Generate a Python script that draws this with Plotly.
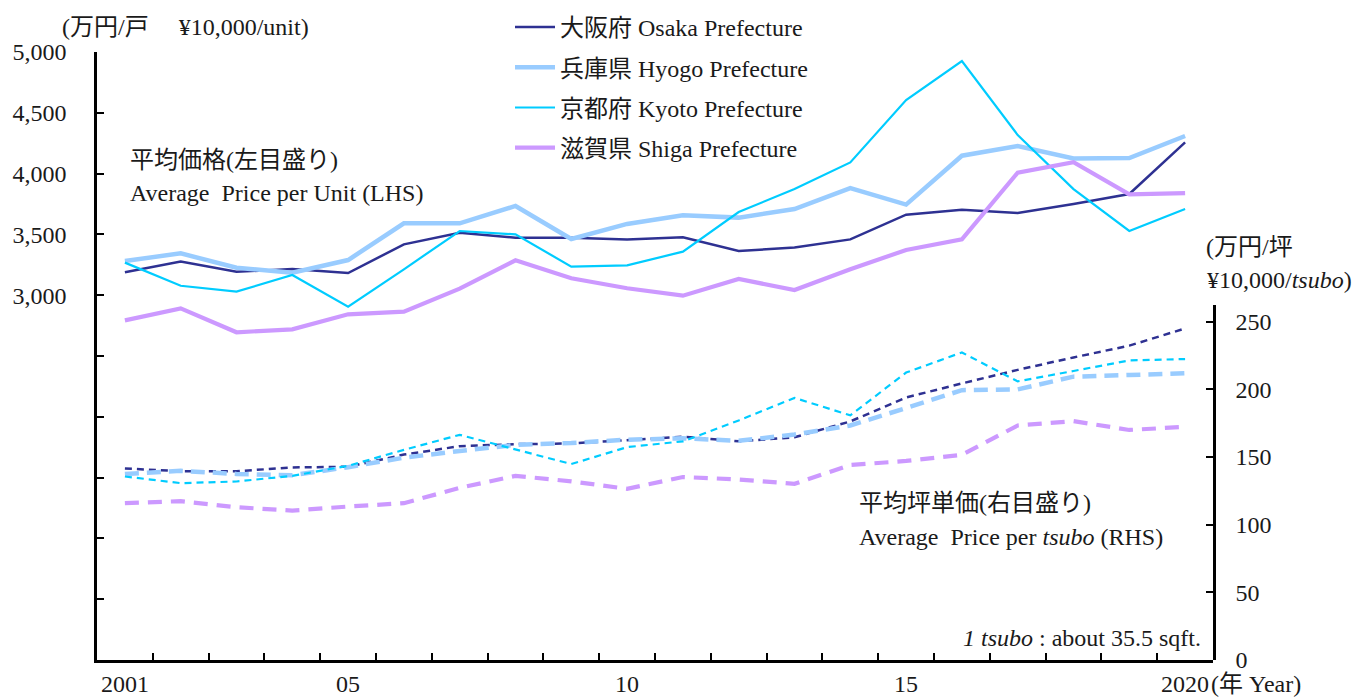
import plotly.graph_objects as go

years = list(range(2001, 2021))

# Average price per unit (LHS, 10,000 yen/unit)
osaka_unit = [3188, 3276, 3193, 3215, 3182, 3418, 3514, 3473, 3473, 3459,
              3476, 3363, 3393, 3459, 3662, 3703, 3676, 3750, 3832, 4257]
hyogo_unit = [3281, 3344, 3226, 3185, 3289, 3591, 3591, 3734, 3462, 3586,
              3657, 3638, 3709, 3880, 3745, 4147, 4227, 4125, 4128, 4309]
kyoto_unit = [3268, 3078, 3029, 3166, 2906, 3213, 3528, 3500, 3235, 3246,
              3358, 3684, 3873, 4092, 4605, 4926, 4317, 3873, 3528, 3709]
shiga_unit = [2793, 2892, 2695, 2719, 2843, 2865, 3054, 3287, 3139, 3057,
              2996, 3133, 3043, 3213, 3372, 3459, 4008, 4093, 3830, 3840]

# Average price per tsubo (RHS, 10,000 yen/tsubo)
osaka_tsubo = [141.5, 139.5, 139.5, 142.3, 142.8, 151.8, 158.0, 159.5, 160.0, 162.5,
               165.0, 161.6, 164.6, 176.3, 194.0, 204.4, 214.4, 223.6, 232.3, 245.0]
hyogo_tsubo = [137.4, 139.8, 137.5, 136.5, 142.5, 149.5, 154.5, 159.0, 160.4, 162.8,
               163.8, 162.0, 166.6, 173.3, 186.2, 199.4, 200.0, 209.4, 210.6, 211.9]
kyoto_tsubo = [135.6, 130.7, 131.9, 136.1, 143.5, 155.3, 166.4, 155.4, 144.8, 157.3,
               161.6, 177.0, 193.7, 180.8, 212.4, 227.3, 205.9, 213.6, 221.4, 222.4]
shiga_tsubo = [115.9, 117.4, 112.9, 110.4, 113.4, 115.9, 127.2, 136.1, 132.0, 126.5,
               135.2, 133.4, 130.2, 144.1, 147.1, 151.6, 173.3, 176.5, 170.0, 172.3]

series_names = ["大阪府 Osaka Prefecture", "兵庫県 Hyogo Prefecture",
                "京都府 Kyoto Prefecture", "滋賀県 Shiga Prefecture"]

x_tick_vals = [2001, 2005, 2010, 2015, 2020]
x_tick_text = ["2001", "05", "10", "15", "2020"]
x_boundaries = [y - 0.5 for y in years] + [2020.5]

left_tick_vals = list(range(0, 5001, 500))
left_tick_text = ["" if v < 3000 else f"{v:,}" for v in left_tick_vals]
right_tick_vals = [0, 50, 100, 150, 200, 250]

FONT = "Liberation Serif, 'Noto Sans CJK JP', serif"
TXT = "#1a1a1a"
FS = 24

colors = ["#2E3192", "#99CCFF", "#00CCFF", "#CC99FF"]
widths = [2.5, 4.5, 2.2, 4.2]
dashes = ["7px,5px", "14px,8px", "7px,5px", "14px,9px"]

fig = go.Figure()
units = [osaka_unit, hyogo_unit, kyoto_unit, shiga_unit]
tsubos = [osaka_tsubo, hyogo_tsubo, kyoto_tsubo, shiga_tsubo]

for i in range(4):
    fig.add_trace(go.Scatter(
        x=years, y=units[i], mode="lines", name=series_names[i],
        legendgroup=f"g{i}",
        line=dict(color=colors[i], width=widths[i]),
        xaxis="x", yaxis="y"))
for i in range(4):
    fig.add_trace(go.Scatter(
        x=years, y=tsubos[i], mode="lines", showlegend=False,
        legendgroup=f"g{i}",
        line=dict(color=colors[i], width=widths[i], dash=dashes[i]),
        xaxis="x", yaxis="y2"))

# invisible trace to carry the tick-label axis
fig.add_trace(go.Scatter(x=[2000.5, 2020.5], y=[0, 0], mode="lines",
                         line=dict(width=0), showlegend=False, hoverinfo="skip",
                         xaxis="x2", yaxis="y"))

W, H = 1354, 697
l, r, t, b = 97, 141, 52, 37
pw, ph = W - l - r, H - t - b

right_top_px = 355.0
d2 = right_top_px / ph
r2_top = right_top_px / (338.3 / 250.0)

fig.update_layout(
    width=W, height=H,
    margin=dict(l=l, r=r, t=t, b=b, autoexpand=False),
    paper_bgcolor="white", plot_bgcolor="rgba(0,0,0,0)",
    font=dict(family=FONT, size=FS, color=TXT),
    xaxis=dict(range=[2000.5, 2020.5], tickmode="array", tickvals=x_boundaries,
               showticklabels=False, ticks="inside", ticklen=7, tickwidth=2,
               tickcolor="black", showline=True, linecolor="black", linewidth=2.5,
               showgrid=False, zeroline=False, automargin=False),
    xaxis2=dict(range=[2000.5, 2020.5], overlaying="x", anchor="y", side="bottom",
                tickmode="array", tickvals=x_tick_vals, ticktext=x_tick_text,
                ticks="", showline=False, showgrid=False, zeroline=False,
                automargin=False,
                tickfont=dict(family=FONT, size=FS, color=TXT), ticklabelstandoff=7),
    yaxis=dict(range=[0, 5000], tickmode="array", tickvals=left_tick_vals,
               ticktext=left_tick_text, ticks="inside", ticklen=7, tickwidth=2,
               tickcolor="black", showline=True, linecolor="black", linewidth=2.5,
               showgrid=False, zeroline=False, ticklabelstandoff=23, automargin=False,
               tickfont=dict(family=FONT, size=FS, color=TXT)),
    yaxis2=dict(range=[0, r2_top], domain=[0, d2], anchor="x", side="right",
                tickmode="array", tickvals=right_tick_vals,
                ticks="inside", ticklen=7, tickwidth=2, tickcolor="black",
                showline=True, linecolor="black", linewidth=2.5, automargin=False,
                showgrid=False, zeroline=False, ticklabelstandoff=15,
                tickfont=dict(family=FONT, size=FS, color=TXT)),
    legend=dict(x=(510 - l) / pw, y=1 + 47 / ph, xanchor="left", yanchor="top",
                bgcolor="rgba(0,0,0,0)", font=dict(family=FONT, size=FS, color=TXT),
                tracegroupgap=6, itemwidth=40),
    showlegend=True,
)

ann = [
    dict(x=60, y=27, text="(万円/戸\u3000\u00a0¥10,000/unit)", xanchor="left"),
    dict(x=128, y=160, text="平均価格(左目盛り)", xanchor="left"),
    dict(x=128, y=193, text="Average\u00a0\u00a0Price per Unit (LHS)", xanchor="left"),
    dict(x=857, y=503, text="平均坪単価(右目盛り)", xanchor="left"),
    dict(x=857, y=537, text="Average\u00a0\u00a0Price per <i>tsubo</i> (RHS)", xanchor="left"),
    dict(x=1203, y=638, text="<i>1 tsubo</i> : about 35.5 sqft.", xanchor="right"),
    dict(x=1204, y=247, text="(万円/坪", xanchor="left"),
    dict(x=1205, y=280, text="¥10,000/<i>tsubo</i>)", xanchor="left"),
    dict(x=1209, y=684, text="(年 Year)", xanchor="left"),
]
for a in ann:
    fig.add_annotation(
        x=(a["x"] - l) / pw, y=1 - (a["y"] - t) / ph, xref="paper", yref="paper",
        text=a["text"], xanchor=a["xanchor"], yanchor="middle", showarrow=False,
        font=dict(family=FONT, size=FS, color=TXT))

fig.write_html("out.html",
               config={"displayModeBar": False},
               post_script="document.body.style.margin='0';document.body.style.overflow='hidden';")
